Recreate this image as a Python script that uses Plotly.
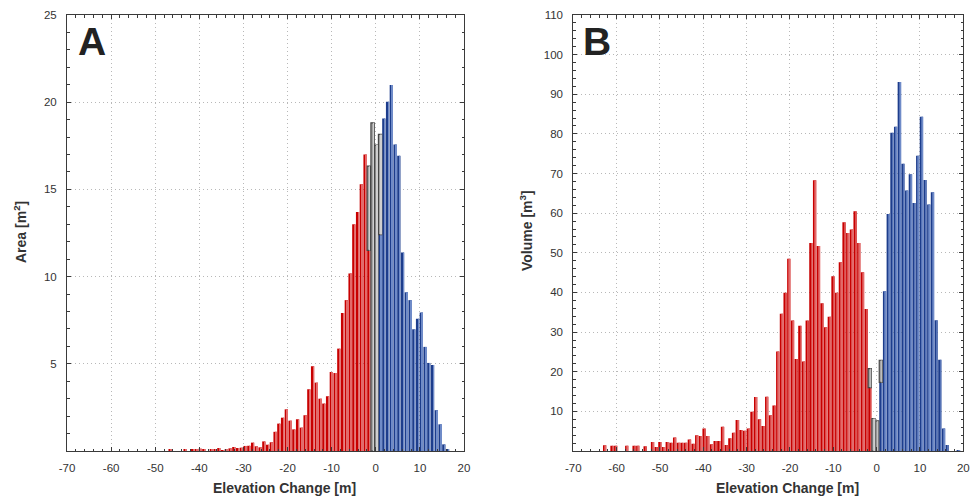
import plotly.graph_objects as go

# ---------------- data ----------------
bin_start = -63.2
bin_width = 0.85
n_bins = 97

# Panel A: area per bin [m2]
area_loss = [0]*19 + [0.08, 0, 0, 0, 0.08, 0, 0.1, 0.1, 0.13, 0.08, 0, 0.08, 0.08, 0.17, 0.05, 0.08,
             0.15, 0.23, 0.17, 0.19, 0.29, 0.3, 0.48, 0.27, 0.21, 0.55, 0.36, 0.5, 1.1, 1.57, 1.91,
             2.39, 1.74, 1.24, 1.82, 1.34, 2.05, 3.54, 4.86, 3.92, 3.0, 2.72, 3.14, 4.53, 4.47, 5.87,
             7.92, 8.65, 10.18, 13.0, 13.7, 15.3, 17.0, 11.5] + [0]*24
area_uncertain = [0]*72 + [4.83, 18.82, 17.54, 5.74] + [0]*21
area_gain = [0]*75 + [12.41, 19.07, 20.03, 20.98, 17.58, 16.93, 11.38, 9.1, 8.65, 6.98, 7.59, 7.94,
                      5.97, 5.05, 4.93, 2.34, 1.53, 0.38, 0.11, 0, 0, 0]

# Panel B: volume per bin [m3]
volume_loss = [1.43, 0, 1.35, 1.35, 0, 0, 1.35, 0, 1.35, 1.35, 0, 1.2, 0, 2.3, 1.0, 2.3, 1.0, 2.3,
               2.1, 3.4, 2.1, 2.1, 2.1, 2.9, 1.85, 4.0, 3.8, 5.7, 3.8, 1.7, 2.5, 2.5, 6.1, 1.5, 3.2,
               4.6, 7.8, 5.3, 5.1, 5.7, 9.9, 13.6, 8.0, 6.3, 13.7, 9.0, 11.5, 25.1, 34.6, 39.9, 48.5,
               32.9, 23.2, 31.6, 22.6, 32.9, 52.5, 68.3, 51.7, 37.3, 31.2, 33.9, 44.1, 39.9, 47.6,
               57.7, 55.0, 55.9, 60.5, 52.5, 45.1, 35.8, 16.0] + [0]*24
volume_uncertain = [0]*72 + [4.8, 8.2, 7.6, 5.6] + [0]*21
volume_gain = [0]*75 + [17.3, 40.3, 59.8, 80.3, 81.8, 93.1, 72.5, 65.7, 69.8, 62.6, 74.5, 84.3,
                        68.4, 62.2, 65.3, 33.0, 23.0, 5.7, 1.5, 0, 0, 0.25]

x_ticks = [-70, -60, -50, -40, -30, -20, -10, 0, 10, 20]
x_ticklabels = ["-70", "-60", "-50", "-40", "-30", "-20", "-10", "0", "10", "20"]
area_ticks = [5, 10, 15, 20, 25]
volume_ticks = [10, 20, 30, 40, 50, 60, 70, 80, 90, 100, 110]

centers = [bin_start + bin_width * (k + 0.5) for k in range(n_bins)]

# ---------------- styling ----------------
RED, RED_HI = "#c80000", "#e36a6a"
BLUE, BLUE_HI = "#1d3d8c", "#6f8bc8"
GRAY, GRAY_HI, GRAY_LINE = "#a4a4a4", "#cfcfcf", "#454545"
AX = "#3a3a3a"
GRID = "#b8b8b8"
FONT = "Liberation Sans, Arial, sans-serif"

W_MAIN = bin_width * 0.88
OFF_MAIN = -W_MAIN / 2
W_HI = bin_width * 0.16
OFF_HI = bin_width * 0.14


def nz(v):
    return [a if a else None for a in v]


fig = go.Figure()


def add_panel(loss, unc, gain, xa, ya):
    base_gray = [(l or 0) + (g or 0) for l, g in zip(loss, gain)]
    common = dict(xaxis=xa, yaxis=ya, showlegend=False, hoverinfo="skip")
    fig.add_trace(go.Bar(x=centers, y=nz(loss), width=W_MAIN, offset=OFF_MAIN,
                         marker=dict(color=RED, line=dict(width=0)), **common))
    fig.add_trace(go.Bar(x=centers, y=nz(loss), width=W_HI, offset=OFF_HI,
                         marker=dict(color=RED_HI, line=dict(width=0)), **common))
    fig.add_trace(go.Bar(x=centers, y=nz(gain), width=W_MAIN, offset=OFF_MAIN,
                         marker=dict(color=BLUE, line=dict(width=0)), **common))
    fig.add_trace(go.Bar(x=centers, y=nz(gain), width=W_HI, offset=OFF_HI,
                         marker=dict(color=BLUE_HI, line=dict(width=0)), **common))
    fig.add_trace(go.Bar(x=centers, y=nz(unc), base=base_gray, width=W_MAIN, offset=OFF_MAIN,
                         marker=dict(color=GRAY, line=dict(width=1.2, color=GRAY_LINE)), **common))
    fig.add_trace(go.Bar(x=centers, y=nz(unc), base=base_gray, width=W_HI, offset=OFF_HI,
                         marker=dict(color=GRAY_HI, line=dict(width=0)), **common))


add_panel(area_loss, area_uncertain, area_gain, "x", "y")
add_panel(volume_loss, volume_uncertain, volume_gain, "x2", "y2")

Y0, Y1 = 1 - 451 / 498, 1 - 15 / 498
XA = [67 / 975, 464 / 975]
XB = [573.3 / 975, 963.3 / 975]

tickfont = dict(family=FONT, size=11.5, color="#333")


def xaxis_main(domain, anchor):
    return dict(domain=domain, anchor=anchor, range=[-70, 20],
                tickmode="array", tickvals=x_ticks, ticktext=x_ticklabels,
                ticks="inside", ticklen=4, tickcolor=AX, tickwidth=1,
                minor=dict(dtick=2, tick0=0, ticks="inside", ticklen=2.5, tickcolor=AX,
                           showgrid=False),
                mirror="allticks", showline=True, linecolor=AX, linewidth=1,
                showgrid=True, gridcolor=GRID, griddash="1px,3px", gridwidth=1,
                zeroline=False, tickfont=tickfont, ticklabelstandoff=6,
                automargin=False, fixedrange=True)


def yaxis_main(domain, anchor, rng, tv, minor_dt):
    return dict(domain=domain, anchor=anchor, range=rng, tickmode="array", tickvals=tv,
                ticks="inside", ticklen=4, tickcolor=AX, tickwidth=1,
                minor=dict(dtick=minor_dt, tick0=0, ticks="inside", ticklen=2.5, tickcolor=AX,
                           showgrid=False),
                mirror="allticks", showline=True, linecolor=AX, linewidth=1,
                showgrid=True, gridcolor=GRID, griddash="1px,3px", gridwidth=1,
                zeroline=False, tickfont=tickfont, ticklabelstandoff=7,
                automargin=False, fixedrange=True)


def x_overlay(over, anchor):
    return dict(overlaying=over, anchor=anchor, side="bottom", range=[-70, 20],
                tickmode="array", tickvals=x_ticks,
                ticks="outside", ticklen=4, tickcolor=AX, showticklabels=False,
                minor=dict(dtick=2, tick0=0, ticks="outside", ticklen=2.5, tickcolor=AX,
                           showgrid=False),
                showgrid=False, showline=False, zeroline=False, automargin=False,
                fixedrange=True)


def y_overlay(over, anchor, rng, tv, minor_dt):
    return dict(overlaying=over, anchor=anchor, side="left", range=rng,
                tickmode="array", tickvals=tv,
                ticks="outside", ticklen=4, tickcolor=AX, showticklabels=False,
                minor=dict(dtick=minor_dt, tick0=0, ticks="outside", ticklen=2.5, tickcolor=AX,
                           showgrid=False),
                showgrid=False, showline=False, zeroline=False, automargin=False,
                fixedrange=True)


fig.update_layout(
    width=975, height=498,
    margin=dict(l=0, r=0, t=0, b=0, autoexpand=False),
    paper_bgcolor="white", plot_bgcolor="white",
    barmode="overlay",
    font=dict(family=FONT, color="#333"),
    xaxis=xaxis_main(XA, "y"),
    yaxis=yaxis_main([Y0, Y1], "x", [0, 25], area_ticks, 1),
    xaxis2=xaxis_main(XB, "y2"),
    yaxis2=yaxis_main([Y0, Y1], "x2", [0, 110], volume_ticks, 2),
    xaxis3=x_overlay("x", "y"),
    yaxis3=y_overlay("y", "x", [0, 25], area_ticks, 1),
    xaxis4=x_overlay("x2", "y2"),
    yaxis4=y_overlay("y2", "x2", [0, 110], volume_ticks, 2),
)

ann_common = dict(xref="paper", yref="paper", showarrow=False)
fig.add_annotation(text="<b>A</b>", x=76 / 975, y=1 - 41 / 498, xanchor="left", yanchor="middle",
                   font=dict(family=FONT, size=39, color="#222"), **ann_common)
fig.add_annotation(text="<b>B</b>", x=580.5 / 975, y=1 - 41 / 498, xanchor="left", yanchor="middle",
                   font=dict(family=FONT, size=39, color="#222"), **ann_common)
fig.add_annotation(text="<b>Elevation Change [m]</b>", x=284 / 975, y=1 - 488 / 498,
                   xanchor="center", yanchor="middle",
                   font=dict(family=FONT, size=14, color="#333"), **ann_common)
fig.add_annotation(text="<b>Elevation Change [m]</b>", x=787 / 975, y=1 - 488 / 498,
                   xanchor="center", yanchor="middle",
                   font=dict(family=FONT, size=14, color="#333"), **ann_common)
fig.add_annotation(text="<b>Area [m<sup>2</sup>]</b>", x=20 / 975, y=1 - 232 / 498, textangle=-90,
                   xanchor="center", yanchor="middle",
                   font=dict(family=FONT, size=14, color="#333"), **ann_common)
fig.add_annotation(text="<b>Volume [m<sup>3</sup>]</b>", x=526 / 975, y=1 - 231 / 498, textangle=-90,
                   xanchor="center", yanchor="middle",
                   font=dict(family=FONT, size=14, color="#333"), **ann_common)

fig.write_html("out.html",
               config={"displayModeBar": False},
               post_script="document.body.style.margin='0px';"
                           "document.body.style.overflow='hidden';")
